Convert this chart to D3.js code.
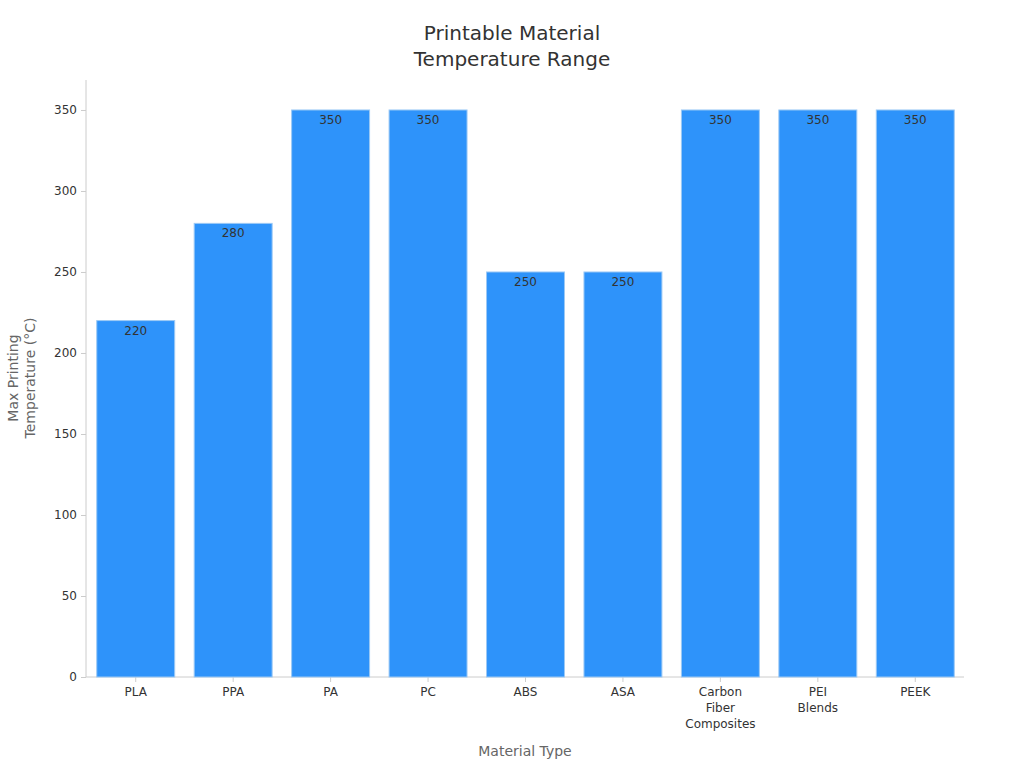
<!DOCTYPE html>
<html>
<head>
<meta charset="utf-8">
<script src="https://cdn.jsdelivr.net/npm/d3@7"></script>
<style>
  body { margin: 0; background: #fff; font-family: "DejaVu Sans", sans-serif; }
  .axis text { font-size: 12px; fill: #333; font-family: "DejaVu Sans", sans-serif; }
  .axis path, .axis line { stroke: #ccc; }
</style>
</head>
<body>
<script>
// chart data
const materials = ["PLA", "PPA", "PA", "PC", "ABS", "ASA", "Carbon Fiber Composites", "PEI Blends", "PEEK"];
const maxTemps = [220, 280, 350, 350, 250, 250, 350, 350, 350];
const yTicks = [0, 50, 100, 150, 200, 250, 300, 350];

document.addEventListener("DOMContentLoaded", () => {
  const width = 1024;
  const height = 768;
  const margin = { top: 80, right: 60, bottom: 91, left: 86 };

  const svg = d3.select('body')
    .append('svg')
    .attr('width', width)
    .attr('height', height);

  const x = d3.scaleBand()
    .domain(materials)
    .range([margin.left + 1, width - margin.right])
    .paddingInner(0.2)
    .paddingOuter(0.1);

  const y = d3.scaleLinear()
    .domain([0, 368.5])
    .range([height - margin.bottom, margin.top]);

  // title
  const title = svg.append('text')
    .attr('text-anchor', 'middle')
    .attr('fill', '#333')
    .style('font-size', '20px');
  title.append('tspan').attr('x', 512).attr('y', 40).text('Printable Material');
  title.append('tspan').attr('x', 512).attr('y', 66).text('Temperature Range');

  // y axis
  const yAxis = svg.append('g')
    .attr('class', 'axis')
    .attr('transform', `translate(${margin.left},0)`)
    .call(d3.axisLeft(y).tickValues(yTicks).tickSize(5).tickPadding(4));
  yAxis.select('.domain').attr('d', `M0,${y.range()[1]}V${y.range()[0]}`);

  // x axis
  const xAxis = svg.append('g')
    .attr('class', 'axis')
    .attr('transform', `translate(0,${height - margin.bottom})`)
    .call(d3.axisBottom(x).tickSize(5).tickPadding(5));
  xAxis.select('.domain').attr('d', `M${margin.left},0H${x.range()[1]}`);

  // wrap multi-word labels onto several lines
  xAxis.selectAll('.tick text').each(function (d) {
    const t = d3.select(this);
    const words = d.split(' ');
    t.text(null);
    words.forEach((w, i) => {
      t.append('tspan').attr('x', 0).attr('dy', i === 0 ? '0.71em' : '1.35em').text(w);
    });
  });

  // bars
  svg.selectAll('rect.bar')
    .data(materials)
    .enter()
    .append('rect')
    .attr('class', 'bar')
    .attr('x', d => x(d))
    .attr('width', x.bandwidth())
    .attr('y', (d, i) => y(maxTemps[i]))
    .attr('height', (d, i) => y(0) - y(maxTemps[i]))
    .attr('fill', '#2e93fa')
    .attr('stroke', '#9cc9f5')
    .attr('stroke-width', 1);

  // value labels
  svg.selectAll('text.val')
    .data(materials)
    .enter()
    .append('text')
    .attr('class', 'val')
    .attr('x', d => x(d) + x.bandwidth() / 2)
    .attr('y', (d, i) => y(maxTemps[i]) + 14)
    .attr('text-anchor', 'middle')
    .attr('fill', '#333')
    .style('font-size', '12px')
    .text((d, i) => maxTemps[i]);

  // axis titles
  svg.append('text')
    .attr('x', (margin.left + x.range()[1]) / 2)
    .attr('y', 756)
    .attr('text-anchor', 'middle')
    .attr('fill', '#666')
    .style('font-size', '14px')
    .text('Material Type');

  const yl = svg.append('text')
    .attr('transform', 'translate(0,378) rotate(-90)')
    .attr('text-anchor', 'middle')
    .attr('fill', '#666')
    .style('font-size', '14px');
  yl.append('tspan').attr('x', 0).attr('y', 18).text('Max Printing');
  yl.append('tspan').attr('x', 0).attr('y', 35).text('Temperature (°C)');
});
</script>
</body>
</html>
